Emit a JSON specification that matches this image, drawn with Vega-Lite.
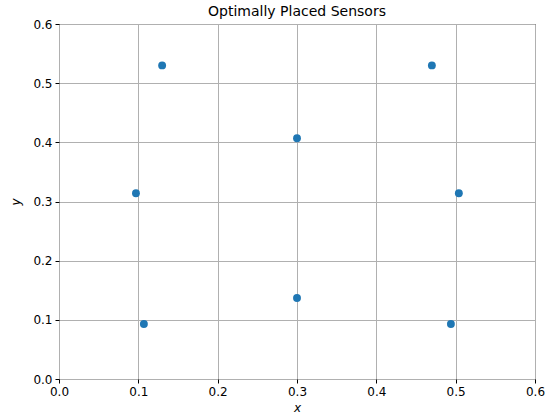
{
  "$schema": "https://vega.github.io/schema/vega-lite/v6.json",
  "width": 476,
  "height": 355,
  "autosize": {"type": "none"},
  "padding": {"left": 59, "top": 24, "right": 11, "bottom": 40},
  "background": "white",
  "title": {"text": "Optimally Placed Sensors", "font": "DejaVu Sans", "fontSize": 14, "fontWeight": "normal", "color": "black", "offset": -1},
  "config": {
    "view": {"stroke": "black", "strokeWidth": 1},
    "axis": {
      "labelFont": "DejaVu Sans", "labelFontSize": 12, "labelColor": "black", "labelFlush": false,
      "titleFont": "DejaVu Sans", "titleFontSize": 12, "titleFontWeight": "normal", "titleColor": "black",
      "gridColor": "#b0b0b0", "gridWidth": 1, "tickColor": "black", "tickSize": 4, "domain": false, "labelPadding": 3
    }
  },
  "data": {"values": [
    {"x": 0.130, "y": 0.530},
    {"x": 0.470, "y": 0.530},
    {"x": 0.300, "y": 0.407},
    {"x": 0.097, "y": 0.314},
    {"x": 0.504, "y": 0.314},
    {"x": 0.300, "y": 0.137},
    {"x": 0.107, "y": 0.093},
    {"x": 0.494, "y": 0.093}
  ]},
  "mark": {"type": "circle", "color": "#1f77b4", "opacity": 1, "size": 62},
  "encoding": {
    "x": {"field": "x", "type": "quantitative", "scale": {"domain": [0, 0.6], "nice": false}, "axis": {"values": [0, 0.1, 0.2, 0.3, 0.4, 0.5, 0.6], "format": ".1f", "title": "x", "titleFontStyle": "italic", "titlePadding": 5}},
    "y": {"field": "y", "type": "quantitative", "scale": {"domain": [0, 0.6], "nice": false}, "axis": {"values": [0, 0.1, 0.2, 0.3, 0.4, 0.5, 0.6], "format": ".1f", "title": "y", "titleFontStyle": "italic", "titlePadding": 10}}
  }
}
